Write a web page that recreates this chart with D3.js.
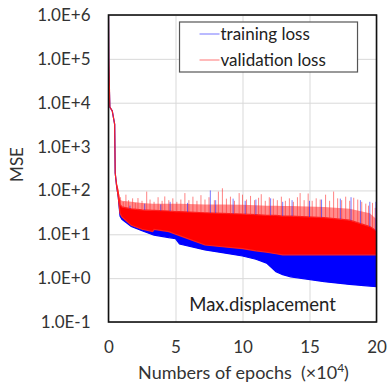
<!DOCTYPE html>
<html>
<head>
<meta charset="utf-8">
<script src="https://cdn.jsdelivr.net/npm/d3@7"></script>
<style>
	html, body { margin: 0; padding: 0; background: white; }
	#outer { width: 387px; height: 385px; }
</style>
</head>
<body>
<div id="outer"></div>
<script>
////////// DATA //////////
// epochs in units of 10^4
const epochs    = [0, 0.02, 0.1, 0.28, 0.46, 0.5, 0.6, 0.73, 0.86, 1.0, 1.7, 2.5, 3.3, 3.4, 4.5, 5.0, 5.3, 7.2, 8.5, 10.0, 11.0, 11.8, 12.5, 13.0, 13.6, 16.1, 18.0, 19.5, 20];
// training loss: lower / upper edge of the dense band
const trainLow  = [1e6, 7e4, 8000, 6500, 3200, 250, 130, 70, 26, 22, 15, 12, 9.8, 9.6, 8.4, 8.0, 6.0, 4.4, 3.8, 3.2, 2.7, 2.2, 1.4, 1.2, 1.07, 0.83, 0.72, 0.66, 0.64];
const trainHigh = [1e6, 7e4, 8000, 6500, 3200, 250, 130, 70, 40, 36, 32, 30, 30, 30, 28, 28, 28, 26, 25, 24, 23, 22, 22, 21, 21, 20, 18, 13, 10];
// validation loss: lower / upper edge of dense band, and the sparse fringe above it
const valLow    = [1e6, 1e5, 8000, 6500, 3200, 250, 130, 70, 30, 25, 16, 13, 11.5, 13, 11.5, 10, 9.3, 5.7, 5.2, 4.7, 4.2, 3.9, 3.6, 3.4, 3.4, 3.4, 3.4, 3.4, 3.4];
const valHigh   = [1e6, 1e5, 8000, 6500, 3200, 250, 140, 90, 48, 42, 38, 36, 35, 35, 34, 33, 33, 31, 30, 29, 28, 27, 27, 26, 26, 24, 21, 15, 12];
const valFringe = [1e6, 1e5, 8000, 6500, 3200, 250, 150, 110, 62, 58, 55, 52, 50, 50, 50, 50, 50, 48, 48, 47, 46, 45, 45, 44, 44, 42, 38, 30, 22];
// single spikes sticking out of the bands
const valSpikeEpochs = [0.9, 1.1, 1.3, 1.5, 1.8, 2.0, 2.2, 2.5, 2.85, 3.1, 3.4, 3.7, 4.0, 4.2, 4.5, 4.8, 5.1, 5.4, 5.7, 6.0, 6.3, 6.6, 6.9, 7.2, 7.5, 7.9, 8.2, 8.5, 8.8, 9.1, 9.4, 9.75, 10.0, 10.3, 10.6, 10.9, 11.2, 11.4, 11.7, 12.0, 12.3, 12.6, 12.9, 13.2, 13.5, 13.8, 14.1, 14.3, 14.6, 14.9, 15.2, 15.5, 15.8, 16.2, 16.5, 16.8, 17.1, 17.4, 17.7, 18.0, 18.3, 18.6, 18.9, 19.2, 19.4, 19.7, 19.9];
const valSpikeValues = [70, 55, 80, 60, 66, 52, 67, 58, 94, 62, 55, 70, 58, 73, 60, 66, 55, 62, 87, 60, 72, 58, 78, 62, 70, 60, 94, 112, 65, 72, 58, 87, 80, 62, 75, 60, 68, 82, 58, 70, 65, 60, 72, 58, 66, 55, 70, 87, 60, 85, 58, 66, 62, 80, 58, 94, 66, 60, 72, 58, 68, 62, 55, 50, 45, 52, 40];
const trainSpikeEpochs = [1.6, 2.7, 3.9, 4.6, 5.9, 7.6, 8.0, 9.3, 10.2, 11.0, 12.1, 13.0, 13.7, 15.0, 15.9, 17.3, 18.1, 18.8, 19.5, 19.95];
const trainSpikeValues = [45, 50, 48, 55, 52, 100, 60, 65, 58, 62, 66, 55, 60, 58, 62, 65, 70, 60, 55, 55];
// axes
const xTicks = [0, 5, 10, 15, 20];
const yTicks = [1e-1, 1e0, 1e1, 1e2, 1e3, 1e4, 1e5, 1e6];
const legendItems = [
	{ label: 'training loss', color: '#8c8cff' },
	{ label: 'validation loss', color: '#ff8c8c' }
];

function drawChart () {
	const widget = {};

	////////// Hard Coded Defs //////////
	const font = 'Lato, "Open Sans", sans-serif';
	const textColor = '#333';
	const margin = { top: 15, left: 108.5, right: 10.5, bottom: 63 };
	const width = 387, height = 385;
	const plotW = width - margin.left - margin.right;
	const plotH = height - margin.top - margin.bottom;

	const x = d3.scaleLinear().domain([0, 20]).range([0, plotW]);
	const y = d3.scaleLog().domain([0.1, 1e6]).range([plotH, 0]);
	const formatSci = d => {
		const e = Math.round(Math.log10(d));
		return '1.0E' + (e >= 0 ? '+' : '-') + Math.abs(e);
	};

	// linear (in log space) lookup on an envelope, used to anchor spikes onto the band
	const bisect = d3.bisector(d => d).left;
	const bandAt = (arr, e) => {
		const i = Math.min(Math.max(bisect(epochs, e), 1), epochs.length - 1);
		const t = (e - epochs[i - 1]) / (epochs[i] - epochs[i - 1]);
		return Math.exp(Math.log(arr[i - 1]) * (1 - t) + Math.log(arr[i]) * t);
	};

	////////// Initialize //////////
	widget.svg = d3.select('#outer').append('svg')
		.attr('width', width)
		.attr('height', height)
		.style('font-family', font);

	const g = widget.svg.append('g')
		.attr('transform', `translate(${margin.left},${margin.top})`);

	g.append('clipPath').attr('id', 'plotClip')
		.append('rect').attr('width', plotW).attr('height', plotH);

	// ********************************************* GRID ******************************************************* //
	g.append('g')
		.attr('class', 'ygrid')
		.call(d3.axisLeft(y).tickValues(yTicks).tickSize(-plotW).tickFormat(''))
		.call(s => s.select('.domain').remove())
		.selectAll('line').attr('stroke', '#d9d9d9').attr('stroke-width', 1);

	g.append('g')
		.attr('class', 'xgrid')
		.attr('transform', `translate(0,${plotH})`)
		.call(d3.axisBottom(x).tickValues(xTicks).tickSize(-plotH).tickFormat(''))
		.call(s => s.select('.domain').remove())
		.selectAll('line').attr('stroke', '#d9d9d9').attr('stroke-width', 1);

	// ********************************************* SERIES ******************************************************* //
	const data = g.append('g').attr('clip-path', 'url(#plotClip)');
	const idx = d3.range(epochs.length);

	const band = (lo, hi) => d3.area()
		.x(i => x(epochs[i]))
		.y0(i => y(lo[i]))
		.y1(i => y(hi[i]));

	data.append('path')
		.datum(idx)
		.attr('d', band(trainLow, trainHigh))
		.attr('fill', '#0000ff')
		.attr('stroke', '#0000ff')
		.attr('stroke-width', 1.2);

	data.append('path')
		.datum(idx)
		.attr('d', band(valHigh, valFringe))
		.attr('fill', '#ff0000')
		.attr('fill-opacity', 0.45)
		.attr('stroke', 'none');

	data.append('path')
		.datum(idx)
		.attr('d', band(valLow, valHigh))
		.attr('fill', '#ff0000')
		.attr('stroke', '#ff2020')
		.attr('stroke-width', 1.2);

	data.append('g').selectAll('line')
		.data(d3.range(valSpikeEpochs.length))
		.join('line')
		.attr('x1', i => x(valSpikeEpochs[i]))
		.attr('x2', i => x(valSpikeEpochs[i]))
		.attr('y1', i => y(bandAt(valHigh, valSpikeEpochs[i])))
		.attr('y2', i => y(valSpikeValues[i]))
		.attr('stroke', '#ff3030')
		.attr('stroke-opacity', 0.6)
		.attr('stroke-width', 1);

	data.append('g').selectAll('line')
		.data(d3.range(trainSpikeEpochs.length))
		.join('line')
		.attr('x1', i => x(trainSpikeEpochs[i]))
		.attr('x2', i => x(trainSpikeEpochs[i]))
		.attr('y1', i => y(bandAt(valHigh, trainSpikeEpochs[i])))
		.attr('y2', i => y(trainSpikeValues[i]))
		.attr('stroke', '#2020ff')
		.attr('stroke-opacity', 0.6)
		.attr('stroke-width', 1);

	// ********************************************* AXES ******************************************************* //
	g.append('rect')
		.attr('width', plotW)
		.attr('height', plotH)
		.attr('fill', 'none')
		.attr('stroke', '#111')
		.attr('stroke-width', 1.6);

	const yAxis = g.append('g')
		.call(d3.axisLeft(y).tickValues(yTicks).tickSize(0).tickPadding(18).tickFormat(formatSci));
	yAxis.select('.domain').remove();
	yAxis.selectAll('text')
		.attr('font-family', font)
		.attr('font-size', 17)
		.attr('fill', textColor);

	const xAxis = g.append('g')
		.attr('transform', `translate(0,${plotH})`)
		.call(d3.axisBottom(x).tickValues(xTicks).tickSize(0).tickPadding(19));
	xAxis.select('.domain').remove();
	xAxis.selectAll('text')
		.attr('font-family', font)
		.attr('font-size', 17)
		.attr('fill', textColor);

	// ********************************************* TITLES ******************************************************* //
	g.append('text')
		.attr('transform', `translate(${-86},${plotH / 2 - 4}) rotate(-90)`)
		.attr('text-anchor', 'middle')
		.attr('font-size', 17)
		.attr('fill', textColor)
		.text('MSE');

	const xTitle = g.append('text')
		.attr('x', plotW / 2 + 1)
		.attr('y', plotH + 57)
		.attr('text-anchor', 'middle')
		.attr('font-size', 18)
		.attr('fill', textColor)
		.attr('xml:space', 'preserve');
	xTitle.append('tspan').text('Numbers of epochs  (×10');
	xTitle.append('tspan').attr('font-size', 12).attr('dy', -7).text('4');
	xTitle.append('tspan').attr('dy', 7).text(')');

	g.append('text')
		.attr('x', x(11.5))
		.attr('y', y(0.1) - 11)
		.attr('text-anchor', 'middle')
		.attr('font-size', 18.5)
		.attr('fill', '#222')
		.text('Max.displacement');

	// ********************************************* LEGEND ******************************************************* //
	const legend = g.append('g')
		.attr('transform', `translate(${x(5.3)},${7})`);
	legend.append('rect')
		.attr('width', 178)
		.attr('height', 50)
		.attr('fill', 'white')
		.attr('stroke', '#555')
		.attr('stroke-width', 1.2);
	const items = legend.selectAll('g.item')
		.data(legendItems)
		.join('g')
		.attr('class', 'item')
		.attr('transform', (d, i) => `translate(0,${12 + i * 26})`);
	items.append('line')
		.attr('x1', 20).attr('x2', 40)
		.attr('stroke', d => d.color)
		.attr('stroke-width', 1.2);
	items.append('text')
		.attr('x', 41)
		.attr('y', 6)
		.attr('font-size', 17)
		.attr('fill', '#222')
		.text(d => d.label);
}

drawChart();
</script>
</body>
</html>
